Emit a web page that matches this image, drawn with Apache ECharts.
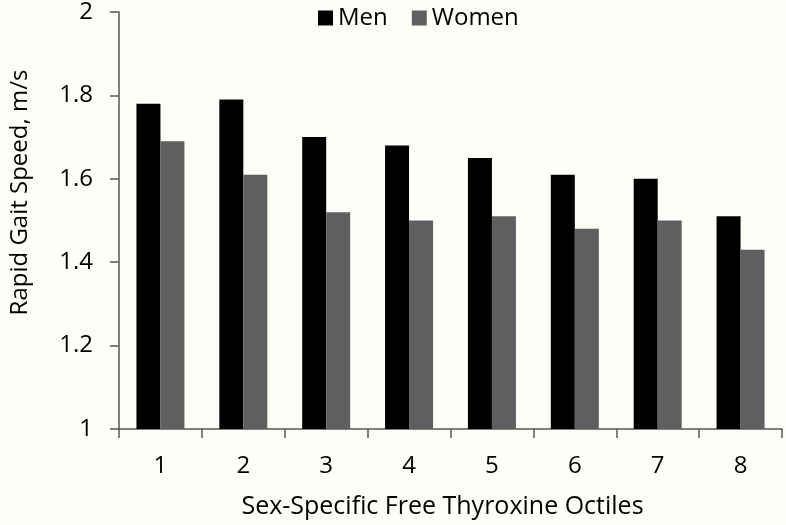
<!DOCTYPE html>
<html>
<head>
<meta charset="utf-8">
<script src="https://cdn.jsdelivr.net/npm/echarts@6/dist/echarts.min.js"></script>
<style>
html,body{margin:0;padding:0;background:#fefef9;}
#chart{width:786px;height:525px;}
</style>
</head>
<body>
<div id="chart"></div>
<script>
var categories = ['1','2','3','4','5','6','7','8'];
var menValues = [1.78, 1.79, 1.70, 1.68, 1.65, 1.61, 1.60, 1.51];
var womenValues = [1.69, 1.61, 1.52, 1.50, 1.51, 1.48, 1.50, 1.43];
var seriesNames = ['Men', 'Women'];
var xAxisTitle = 'Sex-Specific Free Thyroxine Octiles';
var yAxisTitle = 'Rapid Gait Speed, m/s';

var FONT = 'Open Sans';
var W = 500;
var chart = echarts.init(document.getElementById('chart'), null, {renderer:'canvas'});
chart.setOption({
  backgroundColor: '#fefef9',
  animation: false,
  textStyle: {fontFamily: FONT},
  legend: {
    top: 6, left: 318, padding: 0,
    itemWidth: 15, itemHeight: 15, itemGap: 24,
    icon: 'rect',
    textStyle: {fontFamily: FONT, fontSize: 24, fontWeight: W, color: '#000'},
    data: seriesNames
  },
  grid: {left: 114, right: 4, top: 12, bottom: 96, containLabel: false},
  xAxis: {
    type: 'category',
    data: categories,
    name: xAxisTitle,
    nameLocation: 'middle',
    nameGap: 65,
    nameTextStyle: {fontFamily: FONT, fontSize: 25, fontWeight: W, color: '#000', padding: [0, 16, 0, 0]},
    axisLine: {lineStyle: {color: '#555', width: 1.5}},
    axisTick: {show: true, length: 9, inside: false, lineStyle: {color: '#555', width: 1.5}},
    axisLabel: {fontFamily: FONT, fontSize: 24, fontWeight: W, color: '#000', margin: 25}
  },
  yAxis: {
    type: 'value',
    min: 1, max: 2, interval: 0.2,
    name: yAxisTitle,
    nameLocation: 'middle',
    nameGap: 87,
    nameTextStyle: {fontFamily: FONT, fontSize: 24, fontWeight: W, color: '#000', padding: [0, 0, 0, 56]},
    axisLine: {show: true, lineStyle: {color: '#555', width: 1.5}},
    axisTick: {show: true, length: 9, lineStyle: {color: '#555', width: 1.5}},
    splitLine: {show: false},
    axisLabel: {fontFamily: FONT, fontSize: 24, fontWeight: W, color: '#000', margin: 26,
      formatter: function(v){ return String(Math.round(v*10)/10); }}
  },
  series: [
    {name: seriesNames[0], type: 'bar', data: menValues, barWidth: 24, barGap: '0%',
     itemStyle: {color: '#000000'}},
    {name: seriesNames[1], type: 'bar', data: womenValues, barWidth: 24, barGap: '0%',
     itemStyle: {color: '#5f5f61'}}
  ]
});
</script>
</body>
</html>
